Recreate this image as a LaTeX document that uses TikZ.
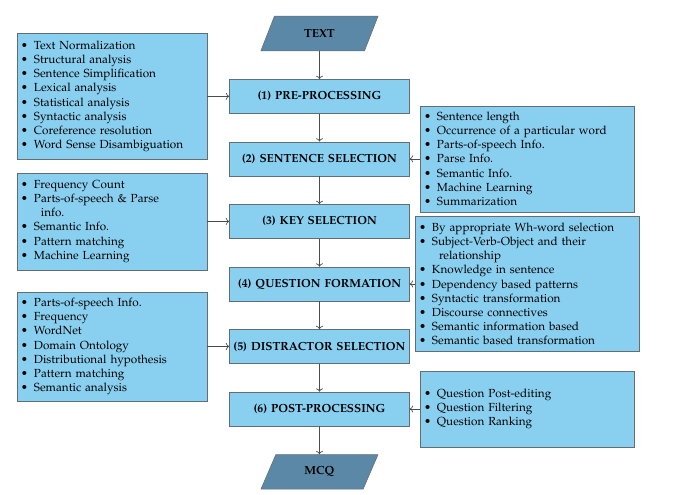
\documentclass[tikz,border=0pt]{standalone}
\usepackage[T1]{fontenc}
\usepackage{mathpazo}
\usepackage{tikz}
\usetikzlibrary{arrows.meta,positioning,shapes.geometric}
\definecolor{boxblue}{RGB}{137,207,240}
\definecolor{ioblue}{RGB}{91,136,166}
\definecolor{edgegray}{RGB}{100,108,116}
\newcommand{\bl}{\makebox[9.75pt][l]{\textbullet}}
\tikzset{
  io/.style={trapezium, trapezium left angle=71, trapezium right angle=109,
             trapezium stretches=true, draw=edgegray, fill=ioblue,
             minimum width=88pt, minimum height=26pt, font=\fontsize{8.8}{10.6}\selectfont\bfseries},
  stage/.style={draw=edgegray, fill=boxblue, text width=131pt, align=center, inner xsep=2pt,
                minimum height=25.5pt, font=\fontsize{8.8}{10.6}\selectfont\bfseries},
  note/.style={draw=edgegray, fill=boxblue, align=left, inner xsep=3pt,
               font=\fontsize{8.8}{10.65}\selectfont},
  conn/.style={-{To[length=2.5pt]}, draw=black!70, line width=0.5pt},
}
\begin{document}
\begin{tikzpicture}[node distance=21pt]
  \useasboundingbox (0,0) rectangle (505.5pt,-371.25pt);
  \node[io] (text) at (239.6pt,-25.1pt) {TEXT};
  \node[stage, below=of text] (p1) {(1) PRE-PROCESSING};
  \node[stage, below=of p1] (p2) {(2) SENTENCE SELECTION};
  \node[stage, below=of p2] (p3) {(3) KEY SELECTION};
  \node[stage, below=of p3] (p4) {(4) QUESTION FORMATION};
  \node[stage, below=of p4] (p5) {(5) DISTRACTOR SELECTION};
  \node[stage, below=of p5] (p6) {(6) POST-PROCESSING};
  \node[io, below=of p6] (mcq) {MCQ};

  % technique boxes
  \node[note, text width=136.5pt, minimum height=94.5pt, left=16.5pt of p1] (t1)
       {\bl Text Normalization\\ \bl Structural analysis\\ \bl Sentence Simplification\\
        \bl Lexical analysis\\ \bl Statistical analysis\\ \bl Syntactic analysis\\
        \bl Coreference resolution\\ \bl Word Sense Disambiguation};
  \node[note, text width=155pt, minimum height=79.5pt, right=7.5pt of p2] (t2)
       {\bl Sentence length\\ \bl Occurrence of a particular word\\ \bl Parts-of-speech Info.\\
        \bl Parse Info.\\ \bl Semantic Info.\\ \bl Machine Learning\\ \bl Summarization};
  \node[note, text width=136.5pt, minimum height=72.75pt, left=16.5pt of p3] (t3)
       {\bl Frequency Count\\ \bl Parts-of-speech \& Parse\\ \hspace*{15pt}info.\\
        \bl Semantic Info.\\ \bl Pattern matching\\ \bl Machine Learning};
  \node[note, text width=162pt, minimum height=101pt, right=3.75pt of p4] (t4)
       {\bl By appropriate Wh-word selection\\ \bl Subject-Verb-Object and their\\
        \hspace*{15pt}relationship\\ \bl Knowledge in sentence\\ \bl Dependency based patterns\\
        \bl Syntactic transformation\\ \bl Discourse connectives\\
        \bl Semantic information based\\ \bl Semantic based transformation};
  \node[note, text width=136.5pt, minimum height=81.75pt, left=16.5pt of p5] (t5)
       {\bl Parts-of-speech Info.\\ \bl Frequency\\ \bl WordNet\\ \bl Domain Ontology\\
        \bl Distributional hypothesis\\ \bl Pattern matching\\ \bl Semantic analysis};
  \node[note, text width=155pt, minimum height=57pt, right=7.5pt of p6] (t6)
       {\bl Question Post-editing\\ \bl Question Filtering\\ \bl Question Ranking};

  \draw[conn] (text) -- (p1);
  \draw[conn] (p1) -- (p2);
  \draw[conn] (p2) -- (p3);
  \draw[conn] (p3) -- (p4);
  \draw[conn] (p4) -- (p5);
  \draw[conn] (p5) -- (p6);
  \draw[conn] (p6) -- (mcq);
  \draw[conn] (t1) -- (p1);
  \draw[conn] (t2) -- (p2);
  \draw[conn] (t3) -- (p3);
  \draw[conn] (t4) -- (p4);
  \draw[conn] (t5) -- (p5);
  \draw[conn] (t6) -- (p6);
\end{tikzpicture}
\end{document}
